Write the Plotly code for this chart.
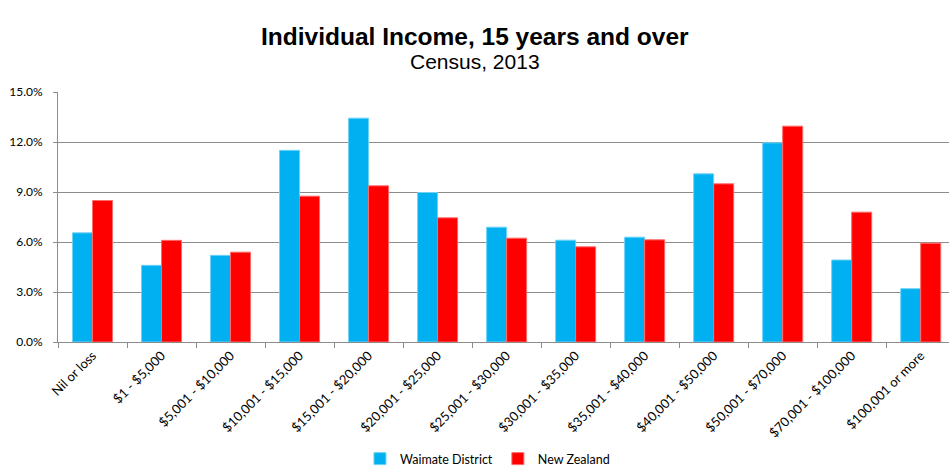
import plotly.graph_objects as go

categories = ["Nil or loss", "$1 - $5,000", "$5,001 - $10,000", "$10,001 - $15,000",
              "$15,001 - $20,000", "$20,001 - $25,000", "$25,001 - $30,000",
              "$30,001 - $35,000", "$35,001 - $40,000", "$40,001 - $50,000",
              "$50,001 - $70,000", "$70,001 - $100,000", "$100,001 or more"]
waimate = [6.55, 4.6, 5.2, 11.5, 13.43, 8.97, 6.89, 6.11, 6.29, 10.09, 11.95, 4.92, 3.2]
new_zealand = [8.49, 6.1, 5.39, 8.75, 9.37, 7.45, 6.23, 5.71, 6.13, 9.49, 12.95, 7.79, 5.93]

fig = go.Figure()
fig.add_trace(go.Bar(x=categories, y=waimate, name="Waimate District",
                     marker=dict(color="#00B0F0", line=dict(color="#6FD3F7", width=1))))
fig.add_trace(go.Bar(x=categories, y=new_zealand, name="New Zealand",
                     marker=dict(color="#FF0000", line=dict(color="#FF6A6A", width=1))))

font_lbl = "Lato, 'Open Sans', sans-serif"
fig.update_layout(
    width=949, height=467,
    margin=dict(l=58, r=0, t=92, b=125, autoexpand=False),
    paper_bgcolor="white", plot_bgcolor="white",
    barmode="group", bargap=0.42, bargroupgap=0,
    showlegend=True,
    legend=dict(orientation="h", x=0.482, xanchor="center", y=-0.468, yanchor="middle",
                font=dict(family=font_lbl, size=12.5, color="#000"), traceorder="normal",
                itemwidth=30),
    xaxis=dict(type="category", range=[-0.5, 12.41], tickangle=-45, automargin=False,
               tickson="boundaries", ticks="outside", ticklen=5, tickcolor="#8c8c8c",
               showline=True, linecolor="#8c8c8c", linewidth=1,
               tickfont=dict(family=font_lbl, size=13, color="#000")),
    yaxis=dict(range=[0, 15], dtick=3, tickformat=".1f", ticksuffix="%", automargin=False,
               showgrid=True, gridcolor="#8c8c8c", gridwidth=1,
               showline=True, linecolor="#8c8c8c", linewidth=1,
               ticks="outside", ticklen=4, tickcolor="#8c8c8c", zeroline=False,
               ticklabelstandoff=8,
               tickfont=dict(family=font_lbl, size=12, color="#000")),
    annotations=[
        dict(text="<b>Individual Income, 15 years and over</b>", xref="paper", yref="paper",
             x=0.4675, y=1, xanchor="center", yanchor="bottom", yshift=40, showarrow=False,
             font=dict(family="Liberation Sans, Arial", size=24.5, color="#000")),
        dict(text="Census, 2013", xref="paper", yref="paper",
             x=0.4675, y=1, xanchor="center", yanchor="bottom", yshift=17, showarrow=False,
             font=dict(family="Liberation Sans, Arial", size=21, color="#000")),
    ],
)

fig.write_html("out.html", config={"displayModeBar": False},
               post_script="document.body.style.margin='0px';document.body.style.overflow='hidden';")
